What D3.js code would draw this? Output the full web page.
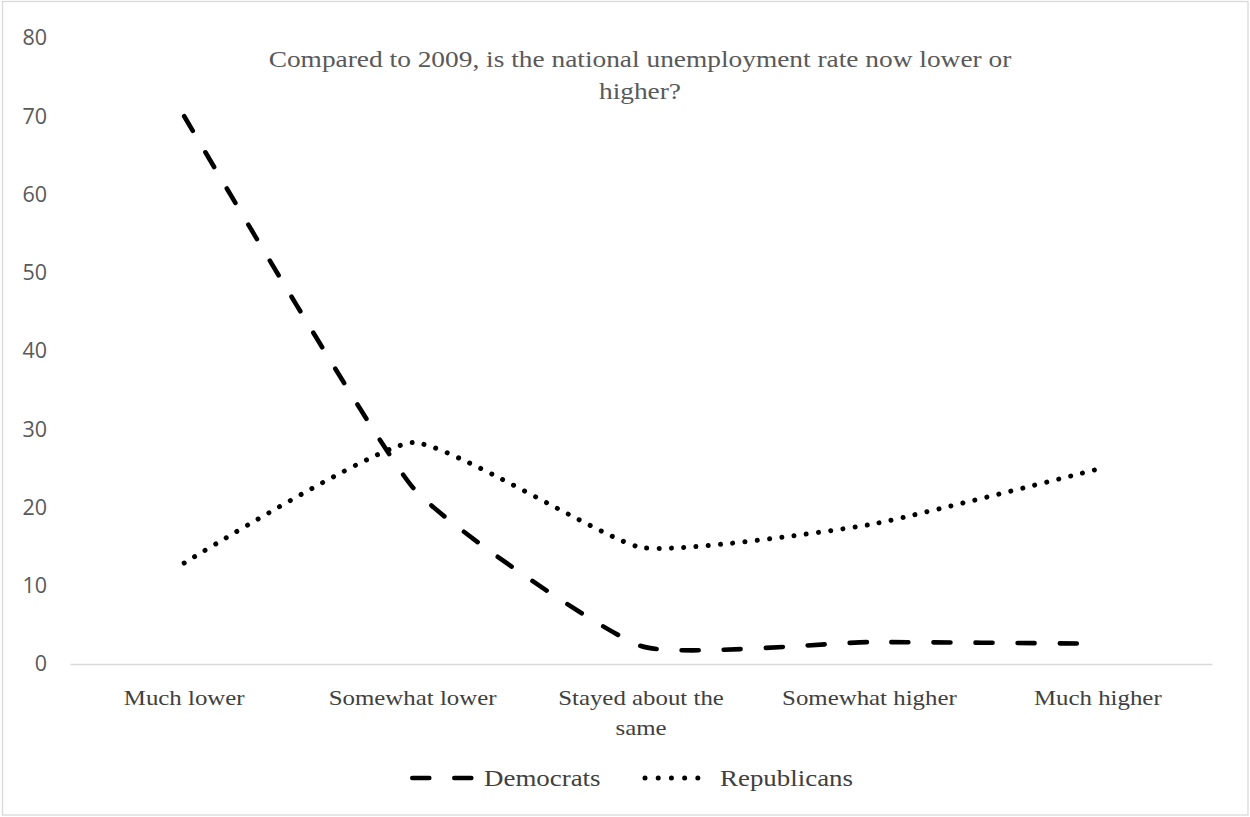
<!DOCTYPE html>
<html>
<head>
<meta charset="utf-8">
<script src="https://cdn.jsdelivr.net/npm/d3@7"></script>
<style>
  html, body { margin: 0; padding: 0; background: #fff; }
  svg { display: block; }
</style>
</head>
<body>
<svg id="chart" width="1250" height="817"></svg>
<script>
// Survey answers and the share (%) of each party choosing them
const categories = ["Much lower", "Somewhat lower", "Stayed about the same", "Somewhat higher", "Much higher"];
const democrats = [70, 22.6, 2.3, 2.8, 2.6];
const republicans = [12.9, 28.3, 14.9, 17.8, 24.9];
const yTicks = [0, 10, 20, 30, 40, 50, 60, 70, 80];
const titleLines = ["Compared to 2009, is the national unemployment rate now lower or", "higher?"];

const series = [
  { name: "Democrats", values: democrats, dash: "17 25", legendDash: "17 25", width: 4.6 },
  { name: "Republicans", values: republicans, dash: "0.01 12.3", legendDash: "0.01 13.2", width: 5 }
];

const svg = d3.select("#chart");
const W = 1250, H = 817;
const margin = { left: 70, right: 38, top: 38, bottom: 153 };
const serif = "'Liberation Serif', 'Times New Roman', serif";
const sans = "'Open Sans', 'Liberation Sans', sans-serif";

// serif labels are set a little wider than the face's natural width
function widen(factor) {
  return sel => sel.each(function () {
    const len = this.getComputedTextLength();
    d3.select(this).attr("textLength", len * factor).attr("lengthAdjust", "spacingAndGlyphs");
  });
}

// chart frame
svg.append("rect")
  .attr("x", 2.5).attr("y", 1.5)
  .attr("width", W - 4.5).attr("height", H - 3.5)
  .attr("fill", "#fff").attr("stroke", "#d9d9d9").attr("stroke-width", 1.3);

const x = d3.scaleBand().domain(categories)
  .range([margin.left, W - margin.right]);
const y = d3.scaleLinear().domain([0, 80])
  .range([H - margin.bottom, margin.top]);

// y axis labels, no axis line
const yAxis = svg.append("g")
  .attr("transform", `translate(${margin.left},0)`)
  .call(d3.axisLeft(y).tickValues(yTicks).tickSize(0).tickPadding(23));
yAxis.select(".domain").remove();
yAxis.selectAll("text")
  .attr("fill", "#595959")
  .style("font-family", sans)
  .style("font-size", "21.5px");

// category axis
const xAxis = svg.append("g")
  .attr("transform", `translate(0,${y(0)})`)
  .call(d3.axisBottom(x).tickSize(0).tickPadding(25));
xAxis.select(".domain").attr("stroke", "#d9d9d9").attr("stroke-width", 1.3);
xAxis.selectAll("text")
  .attr("fill", "#404040")
  .style("font-family", serif)
  .style("font-size", "22px")
  .each(function (d) {
    const t = d3.select(this);
    if (d === "Stayed about the same") {
      // two-line label for the long category
      t.text(null);
      t.append("tspan").attr("x", 0).attr("dy", "0.71em").text("Stayed about the");
      t.append("tspan").attr("x", 0).attr("dy", "1.4em").text("same");
      t.attr("dy", null);
    }
  });
xAxis.selectAll("text").filter(d => d !== "Stayed about the same").call(widen(1.13));
xAxis.selectAll("tspan").call(widen(1.13));

// smoothed series lines
const line = d3.line()
  .x((d, i) => x(categories[i]) + x.bandwidth() / 2)
  .y(d => y(d))
  .curve(d3.curveCardinal.tension(0.55));

svg.append("g").selectAll("path")
  .data(series)
  .join("path")
  .attr("d", d => line(d.values))
  .attr("fill", "none")
  .attr("stroke", "#000")
  .attr("stroke-width", d => d.width)
  .attr("stroke-linecap", "round")
  .attr("stroke-dasharray", d => d.dash);

// title
svg.append("text")
  .attr("x", 640).attr("y", 67)
  .attr("text-anchor", "middle")
  .attr("fill", "#595959")
  .style("font-family", serif)
  .style("font-size", "23px")
  .selectAll("tspan")
  .data(titleLines)
  .join("tspan")
  .attr("x", 640)
  .attr("dy", (d, i) => i === 0 ? 0 : 32)
  .text(d => d)
  .call(widen(1.19));

// legend
const legend = svg.append("g").attr("transform", "translate(0,778)");
const legendItems = [
  { s: series[0], x0: 412.3, x1: 471.5, tx: 484 },
  { s: series[1], x0: 645, x1: 711, tx: 720 }
];
legendItems.forEach(it => {
  legend.append("line")
    .attr("x1", it.x0).attr("x2", it.x1)
    .attr("y1", 0).attr("y2", 0)
    .attr("stroke", "#000")
    .attr("stroke-width", it.s.width)
    .attr("stroke-linecap", "round")
    .attr("stroke-dasharray", it.s.legendDash);
  legend.append("text")
    .attr("x", it.tx).attr("y", 0).attr("dy", "0.35em")
    .attr("fill", "#404040")
    .style("font-family", serif)
    .style("font-size", "23px")
    .text(it.s.name)
    .call(widen(1.17));
});
</script>
</body>
</html>
